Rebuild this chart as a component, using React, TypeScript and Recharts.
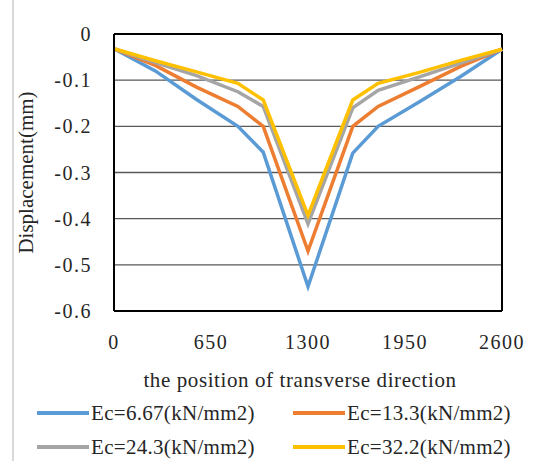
import React from 'react';
import { LineChart, Line, XAxis, YAxis, CartesianGrid, ReferenceLine, Label } from 'recharts';

const positions = [0, 277, 553, 830, 1000, 1300, 1600, 1770, 2047, 2323, 2600];
const ec667 = [-0.032, -0.08, -0.142, -0.2, -0.256, -0.547, -0.258, -0.2, -0.147, -0.092, -0.033];
const ec133 = [-0.032, -0.068, -0.115, -0.157, -0.2, -0.47, -0.2, -0.157, -0.114, -0.07, -0.033];
const ec243 = [-0.032, -0.062, -0.09, -0.125, -0.157, -0.411, -0.16, -0.122, -0.093, -0.063, -0.033];
const ec322 = [-0.032, -0.058, -0.082, -0.107, -0.143, -0.393, -0.143, -0.107, -0.083, -0.057, -0.033];

const xTicks = [0, 650, 1300, 1950, 2600];
const yTicks = [0, -0.1, -0.2, -0.3, -0.4, -0.5, -0.6];

const series = [
  { key: 'a', name: 'Ec=6.67(kN/mm2)', color: '#5B9BD5', values: ec667 },
  { key: 'b', name: 'Ec=13.3(kN/mm2)', color: '#ED7D31', values: ec133 },
  { key: 'c', name: 'Ec=24.3(kN/mm2)', color: '#A5A5A5', values: ec243 },
  { key: 'd', name: 'Ec=32.2(kN/mm2)', color: '#FFC000', values: ec322 },
];

const data = positions.map((x, i) => {
  const row: Record<string, number> = { x };
  series.forEach(s => { row[s.key] = s.values[i]; });
  return row;
});

const font = '"Liberation Serif", "Times New Roman", serif';
const tickStyle = { fontFamily: font, fontSize: 20, fill: '#262626', letterSpacing: 1.5 };

const App: React.FC = () => {
  return (
    <div style={{ position: 'absolute', left: 0, top: 0, width: 534, height: 461, background: '#fff', fontFamily: font }}>
      <div style={{ position: 'absolute', left: 12, top: 0, width: 2, height: 461, background: '#d9d9d9' }} />
      <LineChart width={534} height={461} data={data} margin={{ top: 34, right: 32, left: 0, bottom: 70 }} style={{ fontFamily: font }}>
        <CartesianGrid horizontal vertical={false} stroke="#595959" strokeWidth={1.3} />
        <XAxis
          dataKey="x"
          type="number"
          domain={[0, 2600]}
          ticks={xTicks}
          height={80}
          tickSize={0}
          tickMargin={24}
          tick={tickStyle}
          axisLine={{ stroke: '#000', strokeWidth: 2 }}
        >
          <Label
            value="the position of transverse direction"
            position="insideBottom"
            offset={4}
            dx={-8}
            style={{ fontFamily: font, fontSize: 21, fill: '#262626', letterSpacing: 0.6 }}
          />
        </XAxis>
        <YAxis
          type="number"
          domain={[-0.6, 0]}
          ticks={yTicks}
          width={114}
          tickSize={0}
          tickMargin={22}
          tick={tickStyle}
          tickFormatter={(v: number) => (v === 0 ? '0' : String(v))}
          axisLine={{ stroke: '#000', strokeWidth: 2 }}
        >
          <Label
            value="Displacement(mm)"
            angle={-90}
            position="insideLeft"
            offset={26}
            style={{ fontFamily: font, fontSize: 21, fill: '#262626', textAnchor: 'middle' }}
          />
        </YAxis>
        <ReferenceLine y={0} stroke="#000" strokeWidth={2} />
        <ReferenceLine x={2600} stroke="#000" strokeWidth={2} />
        {series.map(s => (
          <Line
            key={s.key}
            dataKey={s.key}
            name={s.name}
            stroke={s.color}
            strokeWidth={3.5}
            dot={false}
            type="linear"
            isAnimationActive={false}
          />
        ))}
      </LineChart>
      {series.map((s, i) => (
        <div
          key={s.key}
          style={{
            position: 'absolute',
            left: i % 2 === 0 ? 37 : 293,
            top: i < 2 ? 399 : 433,
            display: 'flex',
            alignItems: 'center',
            height: 28,
            fontFamily: font,
            fontSize: 21,
            color: '#262626',
            whiteSpace: 'nowrap',
            letterSpacing: 0.3,
          }}
        >
          <span style={{ display: 'inline-block', width: 52, height: 3.5, background: s.color, marginRight: 2 }} />
          {s.name}
        </div>
      ))}
    </div>
  );
};

export default App;
